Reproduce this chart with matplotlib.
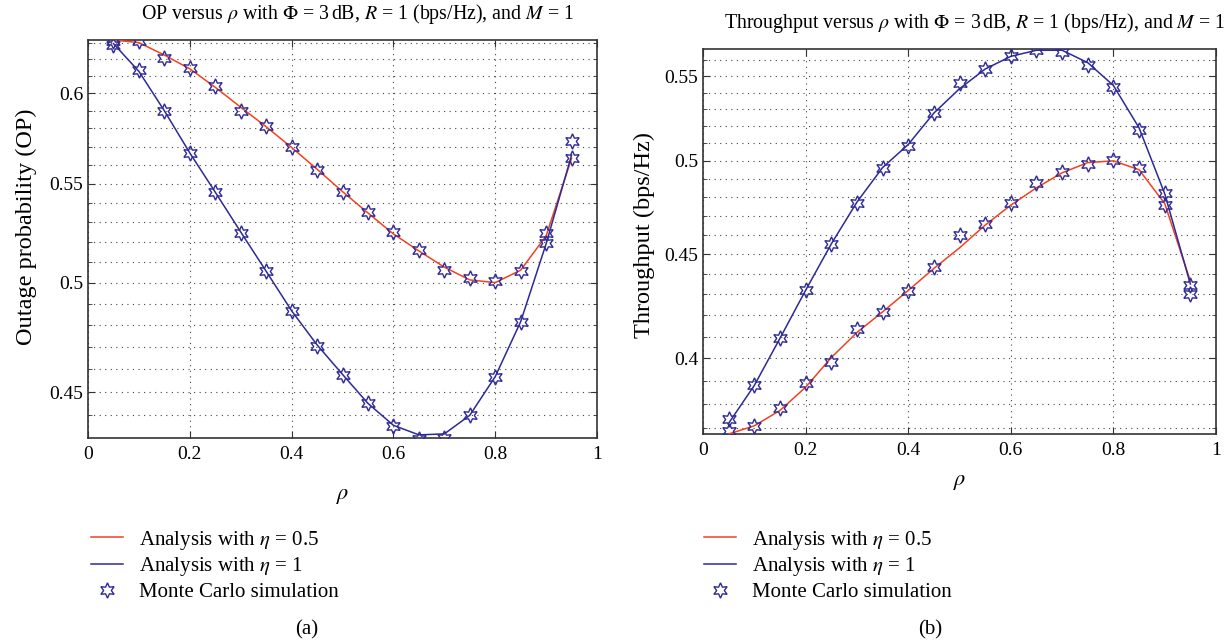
import numpy as np
import matplotlib
matplotlib.use("Agg")
import matplotlib.pyplot as plt

plt.rcParams['font.family'] = ['Liberation Serif', 'DejaVu Serif']
plt.rcParams['mathtext.fontset'] = 'stix'

rho = [0.05, 0.1, 0.15, 0.2, 0.25, 0.3, 0.35, 0.4, 0.45, 0.5,
       0.55, 0.6, 0.65, 0.7, 0.75, 0.8, 0.85, 0.9, 0.95]

# (a) outage probability
op_ana_05 = [0.6316, 0.630, 0.6225, 0.6143, 0.6035, 0.592, 0.581, 0.5695, 0.5577, 0.5458,
             0.5347, 0.524, 0.5155, 0.5075, 0.5013, 0.500, 0.506, 0.523, 0.5635]
op_ana_1 = [0.6294, 0.6128, 0.590, 0.5665, 0.5455, 0.525, 0.5055, 0.4866, 0.4709, 0.4577,
            0.4451, 0.4358, 0.4318, 0.4322, 0.440, 0.4567, 0.4815, 0.519, 0.5653]
op_sim_05 = [0.631, 0.631, 0.621, 0.6145, 0.604, 0.590, 0.5813, 0.570, 0.5575, 0.5455,
             0.535, 0.525, 0.516, 0.506, 0.502, 0.5008, 0.5055, 0.5245, 0.573]
op_sim_1 = [0.6285, 0.6135, 0.590, 0.5663, 0.5455, 0.5247, 0.5055, 0.4866, 0.4706, 0.4575,
            0.4451, 0.4353, 0.4302, 0.4306, 0.440, 0.4567, 0.4815, 0.5192, 0.564]

# (b) throughput
tp_ana_05 = [0.3673, 0.3707, 0.3772, 0.3872, 0.4004, 0.4119, 0.4216, 0.4319, 0.4428, 0.4532,
             0.465, 0.4756, 0.485, 0.4933, 0.499, 0.500, 0.495, 0.4765, 0.4365]
tp_ana_1 = [0.3718, 0.388, 0.4092, 0.432, 0.4552, 0.4772, 0.4962, 0.5093, 0.5277, 0.5424,
            0.5546, 0.5626, 0.5665, 0.5665, 0.5586, 0.5444, 0.519, 0.4818, 0.4351]
tp_sim_05 = [0.3687, 0.3707, 0.3783, 0.389, 0.3982, 0.4135, 0.4216, 0.4319, 0.4437, 0.460,
             0.4655, 0.4767, 0.4878, 0.4937, 0.4985, 0.5007, 0.4962, 0.4756, 0.4304]
tp_sim_1 = [0.3735, 0.388, 0.4095, 0.432, 0.455, 0.4767, 0.4962, 0.5087, 0.5277, 0.5459,
            0.5546, 0.5626, 0.5665, 0.5655, 0.557, 0.5434, 0.5176, 0.4822, 0.4347]

labels = [r'Analysis with $\eta$ = 0.5', r'Analysis with $\eta$ = 1', 'Monte Carlo simulation']
red = '#f2411f'
blue = '#2e2a95'
star = (6, 1, 0)

fig = plt.figure(figsize=(12.31, 6.44), dpi=100)
ax1 = fig.add_axes([88/1231, 1 - 438/644, 509/1231, 398/644])
ax2 = fig.add_axes([703/1231, 1 - 434/644, 513/1231, 385/644])


def draw(ax, a05, a1, s05, s1, ylim, major, minor, title, ylabel, xpad, ypad, ly):
    l1, = ax.plot(rho, a05, color=red, lw=1.1, zorder=3)
    l2, = ax.plot(rho, a1, color=blue, lw=1.1, zorder=3)
    mk, = ax.plot(rho, s05, ls='none', marker=star, ms=11, mfc='none', mec=blue, mew=1.0, zorder=4)
    ax.plot(rho, s1, ls='none', marker=star, ms=11, mfc='none', mec=blue, mew=1.0, zorder=4)
    ax.set_yscale('log')
    ax.set_xlim(0, 1)
    ax.set_ylim(*ylim)
    ax.set_xticks([0, 0.2, 0.4, 0.6, 0.8, 1], ['0', '0.2', '0.4', '0.6', '0.8', '1'])
    ax.set_yticks(major, [('%g' % v) for v in major])
    ax.set_yticks(minor, minor=True)
    ax.yaxis.set_minor_formatter(matplotlib.ticker.NullFormatter())
    ax.tick_params(which='both', direction='in', top=True, right=True, labelsize=14, color='#333333')
    ax.tick_params(which='major', length=5)
    ax.tick_params(axis='x', pad=6)
    ax.tick_params(which='minor', length=3)
    ax.grid(True, which='major', color='#444444', ls=(0, (1, 4)), lw=0.8)
    ax.grid(True, which='minor', axis='y', color='#444444', ls=(0, (1, 4)), lw=0.8)
    for s in ax.spines.values():
        s.set_linewidth(1.2)
        s.set_color('#333333')
    ax.set_title(title, fontsize=14.3, pad=15, x=0.53)
    ax.set_xlabel(r'$\rho$', fontsize=16, labelpad=xpad)
    ax.set_ylabel(ylabel, fontsize=17.5, labelpad=ypad, y=ly)
    return l1, l2, mk


h = draw(ax1, op_ana_05, op_ana_1, op_sim_05, op_sim_1, (0.4305, 0.6316),
         [0.45, 0.5, 0.55, 0.6], np.round(np.arange(0.44, 0.635, 0.01), 2),
         r'OP versus $\rho$ with $\Phi$ = 3$\,$dB, $R$ = 1 (bps/Hz), and $M$ = 1',
         'Outage probability (OP)', 17, 9, 0.53)
ax1.legend(h, labels, loc='upper left', bbox_to_anchor=(72/1231, 1 - 510/644),
           bbox_transform=fig.transFigure, frameon=False, fontsize=15,
           handlelength=1.55, handletextpad=0.75, labelspacing=0.18)

h = draw(ax2, tp_ana_05, tp_ana_1, tp_sim_05, tp_sim_1, (0.3673, 0.5673),
         [0.4, 0.45, 0.5, 0.55], np.round(np.arange(0.37, 0.565, 0.01), 2),
         r'Throughput versus $\rho$ with $\Phi$ = 3$\,$dB, $R$ = 1 (bps/Hz), and $M$ = 1',
         'Throughput (bps/Hz)', 10, 7, 0.517)
ax2.legend(h, labels, loc='upper left', bbox_to_anchor=(685/1231, 1 - 510/644),
           bbox_transform=fig.transFigure, frameon=False, fontsize=15,
           handlelength=1.55, handletextpad=0.75, labelspacing=0.18)

fig.text(307/1231, 1 - 630/644, '(a)', fontsize=15, ha='center', va='center')
fig.text(930/1231, 1 - 630/644, '(b)', fontsize=15, ha='center', va='center')

fig.savefig('out.png', dpi=100)
